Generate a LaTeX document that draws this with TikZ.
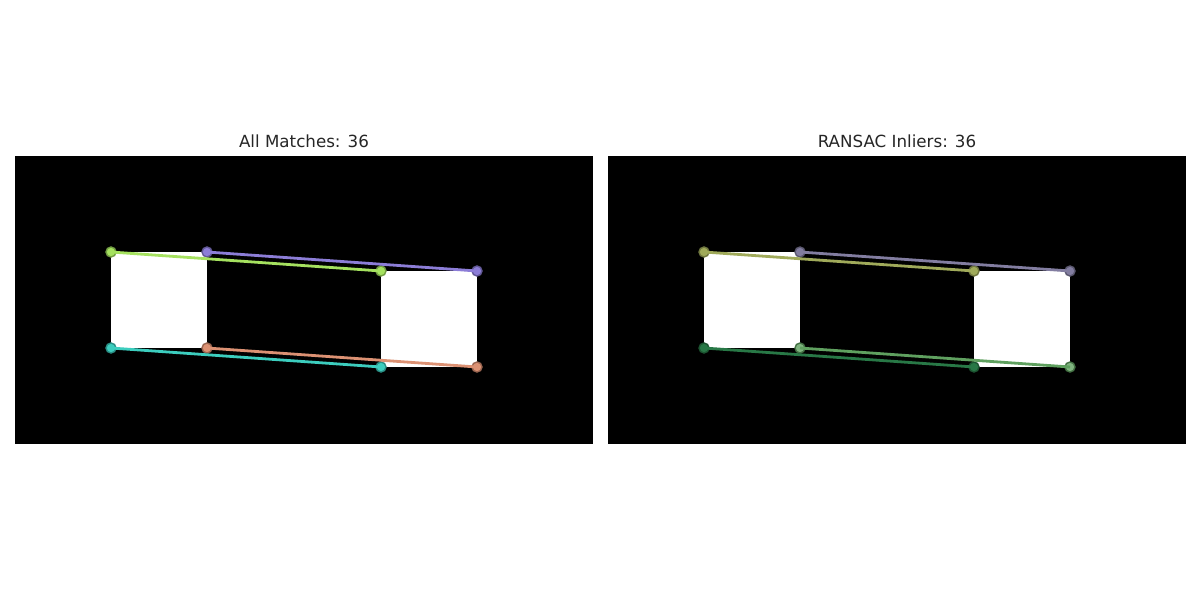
\documentclass[tikz,border=0pt]{standalone}
\usepackage{fontspec}
\setmainfont{DejaVu Sans}
\begin{document}
\begin{tikzpicture}[x=1pt,y=-1pt,
  panel/.style={fill=black,draw=none},
  sq/.style={fill=white,draw=none},
  kp/.style={circle,inner sep=0pt,minimum size=10pt,line width=1.4pt},
  mline/.style={line width=2.8pt},
  ttl/.style={font=\fontsize{16.7}{20}\selectfont,text=black!85}]
\useasboundingbox (0,0) rectangle (1200,600);
\definecolor{lg}{RGB}{165,225,95}
\definecolor{lp}{RGB}{140,125,215}
\definecolor{lc}{RGB}{60,205,190}
\definecolor{ls}{RGB}{220,145,115}
\definecolor{rg}{RGB}{160,170,90}
\definecolor{rp}{RGB}{130,125,160}
\definecolor{rc}{RGB}{40,120,70}
\definecolor{rs}{RGB}{95,160,95}
% left panel
\fill[panel] (15,156) rectangle (593,444);
\fill[sq] (111,252) rectangle (207,348);
\fill[sq] (381,271) rectangle (477,367);
\node[ttl] (t1) at (304,141) {All Matches: 36};
\node[kp,fill=lg,draw=lg!70!black] (a1) at (111,252) {};
\node[kp,fill=lp,draw=lp!70!black] (a2) at (207,252) {};
\node[kp,fill=lc,draw=lc!70!black] (a3) at (111,348) {};
\node[kp,fill=ls,draw=ls!70!black] (a4) at (207,348) {};
\node[kp,fill=lg,draw=lg!70!black] (b1) at (381,271) {};
\node[kp,fill=lp,draw=lp!70!black] (b2) at (477,271) {};
\node[kp,fill=lc,draw=lc!70!black] (b3) at (381,367) {};
\node[kp,fill=ls,draw=ls!70!black] (b4) at (477,367) {};
\draw[mline,lp] (a2.center) -- (b2.center);
\draw[mline,ls] (a4.center) -- (b4.center);
\draw[mline,lc] (a3.center) -- (b3.center);
\draw[mline,lg] (a1.center) -- (b1.center);
% right panel
\fill[panel] (608,156) rectangle (1186,444);
\fill[sq] (704,252) rectangle (800,348);
\fill[sq] (974,271) rectangle (1070,367);
\node[ttl] (t2) at (897,141) {RANSAC Inliers: 36};
\node[kp,fill=rg,draw=rg!70!black] (c1) at (704,252) {};
\node[kp,fill=rp,draw=rp!70!black] (c2) at (800,252) {};
\node[kp,fill=rc,draw=rc!70!black] (c3) at (704,348) {};
\node[kp,fill=rs!80!white,draw=rs!70!black] (c4) at (800,348) {};
\node[kp,fill=rg,draw=rg!70!black] (d1) at (974,271) {};
\node[kp,fill=rp,draw=rp!70!black] (d2) at (1070,271) {};
\node[kp,fill=rc,draw=rc!70!black] (d3) at (974,367) {};
\node[kp,fill=rs!80!white,draw=rs!70!black] (d4) at (1070,367) {};
\draw[mline,rp] (c2.center) -- (d2.center);
\draw[mline,rs] (c4.center) -- (d4.center);
\draw[mline,rc] (c3.center) -- (d3.center);
\draw[mline,rg] (c1.center) -- (d1.center);
\end{tikzpicture}
\end{document}
